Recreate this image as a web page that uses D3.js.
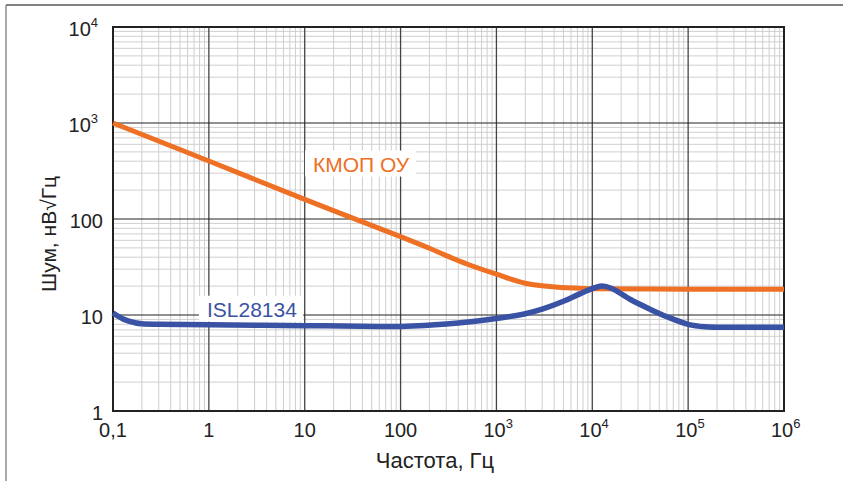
<!doctype html>
<html>
<head>
<meta charset="utf-8">
<title>Шум ОУ</title>
<script src="https://d3js.org/d3.v7.min.js"></script>
<style>
  body { margin: 0; background: #fff; }
  svg { display: block; font-family: "Liberation Sans", Arial, sans-serif; }
</style>
</head>
<body>
<script>
// --- data ---
var cmosFreq  = [0.1, 1, 10, 100, 200, 300, 500, 1000, 2000, 4700, 7400, 1e4, 1e5, 1e6];
var cmosNoise = [1000, 402, 160, 65.5, 49.5, 41.5, 33.8, 26.6, 21.4, 19.3, 19.0, 18.8, 18.6, 18.6];

var islFreq  = [0.1, 0.13, 0.17, 0.2, 0.3, 1, 10, 60, 100, 300, 1000, 2000, 3000, 5000, 7400, 1e4, 1.26e4, 1.6e4, 2.5e4, 4e4, 6e4, 1e5, 1.5e5, 3e5, 1e6];
var islNoise = [10.5, 9.0, 8.3, 8.1, 8.0, 7.9, 7.75, 7.6, 7.6, 8.05, 9.2, 10.3, 11.5, 13.9, 16.6, 18.8, 20.0, 18.9, 14.5, 11.5, 9.6, 8.0, 7.55, 7.45, 7.45];

var xTicks = [0.1, 1, 10, 100, 1e3, 1e4, 1e5, 1e6];
var xTickLabels = [["0,1", ""], ["1", ""], ["10", ""], ["100", ""], ["10", "3"], ["10", "4"], ["10", "5"], ["10", "6"]];
var yTicks = [1, 10, 100, 1e3, 1e4];
var yTickLabels = [["1", ""], ["10", ""], ["100", ""], ["10", "3"], ["10", "4"]];

var seriesNames = ["КМОП ОУ", "ISL28134"];
var xTitle = "Частота, Гц";
var yTitle = "Шум, нВ√Гц";

// --- layout ---
var W = 843, H = 481;
var margin = {top: 27, right: 59, bottom: 70, left: 113};
var pw = W - margin.left - margin.right,
    ph = H - margin.top - margin.bottom;

var orange = "#ee7024", blue = "#3a52a3";

var svg = d3.select("body").append("svg").attr("width", W).attr("height", H);

// outer frame (top and left only visible)
svg.append("line").attr("x1", 6).attr("x2", W).attr("y1", 5).attr("y2", 5)
  .attr("stroke", "#808080").attr("stroke-width", 2);
svg.append("line").attr("x1", 6).attr("x2", 6).attr("y1", 5).attr("y2", H)
  .attr("stroke", "#8c8c8c").attr("stroke-width", 1.5);

var g = svg.append("g").attr("transform", "translate(" + margin.left + "," + margin.top + ")");

var x = d3.scaleLog().domain([0.1, 1e6]).range([0, pw]);
var y = d3.scaleLog().domain([1, 1e4]).range([ph, 0]);

// minor grid
var minorX = [], minorY = [];
for (var e = -1; e < 6; e++) for (var k = 2; k < 10; k++) minorX.push(k * Math.pow(10, e));
for (var e2 = 0; e2 < 4; e2++) for (var k2 = 2; k2 < 10; k2++) minorY.push(k2 * Math.pow(10, e2));

g.append("g").selectAll("line").data(minorX).join("line")
  .attr("x1", d => x(d)).attr("x2", d => x(d)).attr("y1", 0).attr("y2", ph)
  .attr("stroke", "#cfcfcf").attr("stroke-width", 1);
g.append("g").selectAll("line").data(minorY).join("line")
  .attr("y1", d => y(d)).attr("y2", d => y(d)).attr("x1", 0).attr("x2", pw)
  .attr("stroke", "#cfcfcf").attr("stroke-width", 1);

// major grid
g.append("g").selectAll("line").data(xTicks.slice(1, -1)).join("line")
  .attr("x1", d => x(d)).attr("x2", d => x(d)).attr("y1", 0).attr("y2", ph)
  .attr("stroke", "#444").attr("stroke-width", 1.3);
g.append("g").selectAll("line").data(yTicks.slice(1, -1)).join("line")
  .attr("y1", d => y(d)).attr("y2", d => y(d)).attr("x1", 0).attr("x2", pw)
  .attr("stroke", "#222").attr("stroke-width", 1.1);

g.append("rect").attr("width", pw).attr("height", ph)
  .attr("fill", "none").attr("stroke", "#222").attr("stroke-width", 2);

// tick labels
var yl = g.append("g").attr("font-size", 20).attr("fill", "#222");
yTicks.forEach(function (t, i) {
  var lab = yTickLabels[i];
  var tx = yl.append("text").attr("text-anchor", "end")
    .attr("x", lab[1] ? -15 : -10).attr("y", y(t) + 9);
  tx.append("tspan").text(lab[0]);
  if (lab[1]) tx.append("tspan").attr("font-size", 13).attr("dy", -9).text(lab[1]);
});

var xl = g.append("g").attr("font-size", 20).attr("fill", "#222");
xTicks.forEach(function (t, i) {
  var lab = xTickLabels[i];
  var tx = xl.append("text").attr("y", ph + 26);
  if (lab[1]) {
    tx.attr("x", x(t) - 13);
    tx.append("tspan").text(lab[0]);
    tx.append("tspan").attr("font-size", 13).attr("dy", -9).text(lab[1]);
  } else {
    tx.attr("text-anchor", "middle").attr("x", x(t)).text(lab[0]);
  }
});

// axis titles
svg.append("text").attr("x", 435).attr("y", 468).attr("text-anchor", "middle")
  .attr("font-size", 22).attr("fill", "#222").text(xTitle);
svg.append("text").attr("transform", "translate(56,234) rotate(-90)")
  .attr("text-anchor", "middle").attr("font-size", 21).attr("fill", "#222").text(yTitle);

// series labels sit on white boxes, under the curves
var lbls = g.append("g");
[[seriesNames[0], 12.2, 312, orange], [seriesNames[1], 0.955, 9.6, blue]].forEach(function (s) {
  var t = lbls.append("text").attr("x", x(s[1])).attr("y", y(s[2]))
    .attr("font-size", 21).attr("fill", s[3]).text(s[0]);
  var b = t.node().getBBox();
  lbls.insert("rect", "text").attr("x", b.x - 8).attr("y", b.y - 2)
    .attr("width", b.width + 14).attr("height", b.height + 3).attr("fill", "#fff");
});

var line = d3.line().x(d => x(d[0])).y(d => y(d[1])).curve(d3.curveCatmullRom.alpha(0.5));

g.append("path").datum(d3.zip(cmosFreq, cmosNoise)).attr("d", line)
  .attr("fill", "none").attr("stroke", orange).attr("stroke-width", 5);
g.append("path").datum(d3.zip(islFreq, islNoise)).attr("d", line)
  .attr("fill", "none").attr("stroke", blue).attr("stroke-width", 5.5);
</script>
</body>
</html>
